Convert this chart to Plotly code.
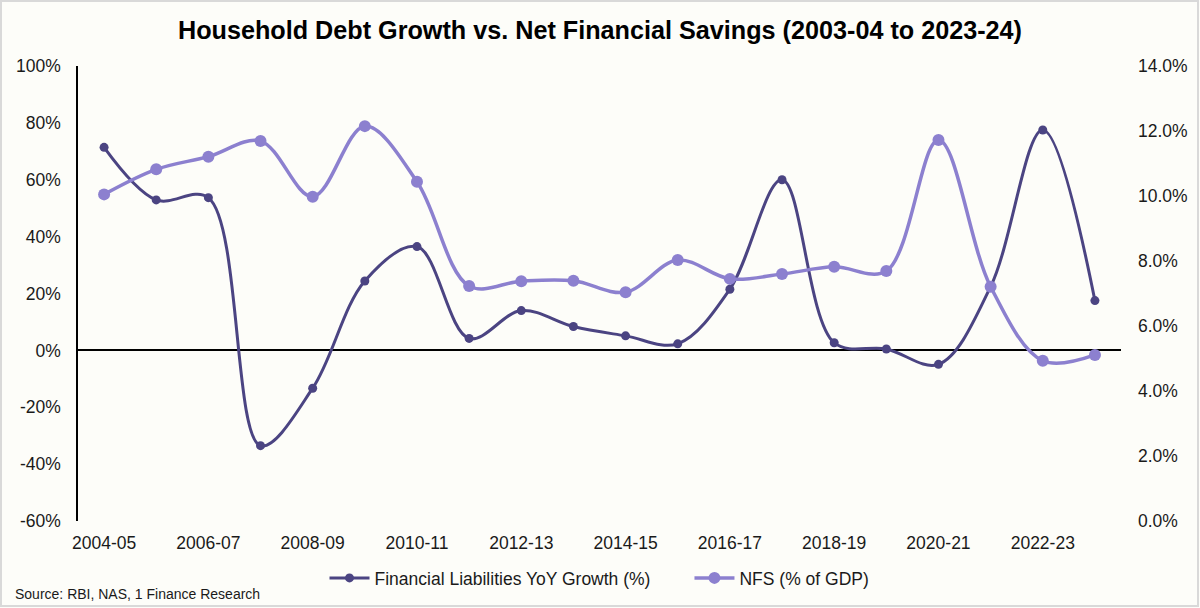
import plotly.graph_objects as go

years = ["2004-05", "2005-06", "2006-07", "2007-08", "2008-09", "2009-10", "2010-11",
         "2011-12", "2012-13", "2013-14", "2014-15", "2015-16", "2016-17", "2017-18",
         "2018-19", "2019-20", "2020-21", "2021-22", "2022-23", "2023-24"]
fl_growth = [71.4, 52.9, 53.7, -33.5, -13.3, 24.4, 36.5, 4.2, 14.0, 8.4,
             5.1, 2.3, 21.5, 60.0, 2.7, 0.5, -4.9, 22.4, 77.5, 17.5]
nfs_gdp = [10.05, 10.82, 11.21, 11.69, 9.98, 12.15, 10.44, 7.23, 7.38, 7.39,
           7.04, 8.03, 7.45, 7.60, 7.82, 7.69, 11.72, 7.21, 4.93, 5.11]
tick_labels = years[::2]
left_ticks = [-60, -40, -20, 0, 20, 40, 60, 80, 100]
left_text = [f"{v}%" for v in left_ticks]
right_ticks = [0, 2, 4, 6, 8, 10, 12, 14]
right_text = [f"{v:.1f}%" for v in right_ticks]

DARK = "#4B4482"
LIGHT = "#8C80CF"
BG = "#FDFDF9"
FONT = "Liberation Sans, Arial, sans-serif"
TXT = "#1a1a1a"

W, H = 1200, 608
L, R, T, B = 78, 79, 66, 87
pw, ph = W - L - R, H - T - B

fig = go.Figure()
fig.add_trace(go.Scatter(
    x=years, y=fl_growth, name="Financial Liabilities YoY Growth (%)" + "\u00a0" * 7,
    mode="lines+markers", line=dict(color=DARK, width=3, shape="spline", smoothing=1.0),
    marker=dict(color=DARK, size=9), yaxis="y"))
fig.add_trace(go.Scatter(
    x=years, y=nfs_gdp, name="NFS (% of GDP)",
    mode="lines+markers", line=dict(color=LIGHT, width=3.5, shape="spline", smoothing=1.0),
    marker=dict(color=LIGHT, size=12), yaxis="y2"))

fig.update_layout(
    width=W, height=H,
    margin=dict(l=L, r=R, t=T, b=B),
    paper_bgcolor=BG, plot_bgcolor=BG,
    font=dict(family=FONT, size=17.5, color=TXT),
    title=dict(text="<b>Household Debt Growth vs. Net Financial Savings (2003-04 to 2023-24)</b>",
               x=0.5, xanchor="center", y=1 - 30 / H, yanchor="middle",
               font=dict(family=FONT, size=25.2, color="#000000")),
    xaxis=dict(type="category", range=[-0.5, len(years) - 0.5],
               tickmode="array", tickvals=tick_labels, ticktext=tick_labels,
               showgrid=False, showline=False, zeroline=False, ticks="",
               ticklabelstandoff=9, tickfont=dict(size=17.5, color=TXT)),
    yaxis=dict(range=[-60, 100], tickmode="array", tickvals=left_ticks, ticktext=left_text,
               showgrid=False, showline=True, linecolor="#000000",
               linewidth=1.5, zeroline=True, zerolinecolor="#000000", zerolinewidth=1.5,
               ticks="", ticklabelstandoff=12, tickfont=dict(size=17.5, color=TXT)),
    yaxis2=dict(range=[0, 14], tickmode="array", tickvals=right_ticks, ticktext=right_text,
                overlaying="y", side="right",
                showgrid=False, showline=False, zeroline=False, ticks="",
                ticklabelstandoff=16, tickfont=dict(size=17.5, color=TXT)),
    legend=dict(orientation="h", x=0.5, xanchor="center", y=-(578 - (H - B)) / ph,
                yanchor="middle", bgcolor="rgba(0,0,0,0)",
                font=dict(size=17.5, color=TXT), itemwidth=40),
    showlegend=True,
    hovermode=False,
)

fig.add_annotation(text="Source: RBI, NAS, 1 Finance Research", xref="paper", yref="paper",
                   x=(13 - L) / pw, y=-(594 - (H - B)) / ph, xanchor="left", yanchor="middle",
                   showarrow=False, font=dict(family=FONT, size=14, color=TXT))

fig.add_shape(type="rect", xref="paper", yref="paper",
              x0=(1 - L) / pw, x1=(W - 2 - L) / pw, y0=-(H - 2 - (H - B)) / ph, y1=1 + (T - 1) / ph,
              line=dict(color="#D9D9D9", width=2), fillcolor="rgba(0,0,0,0)", layer="below")

fig.write_html("out.html", config={"displayModeBar": False},
               post_script="document.body.style.margin='0';document.body.style.background='" + BG + "';")
